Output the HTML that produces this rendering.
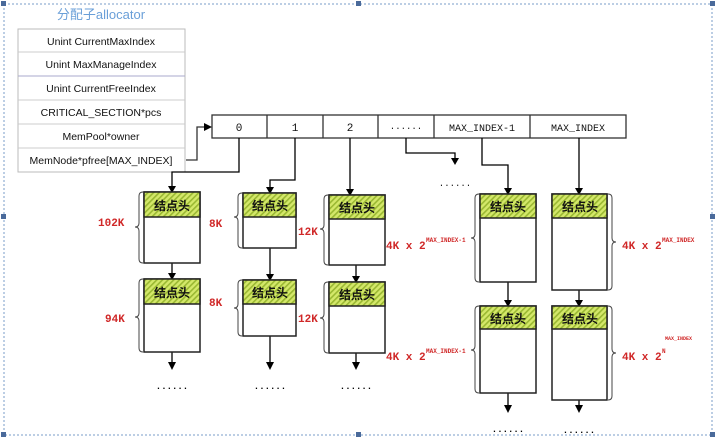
<!DOCTYPE html>
<html><head><meta charset="utf-8"><style>
body{margin:0;width:720px;height:441px;background:#fff;overflow:hidden;font-family:"Liberation Sans","Noto Sans CJK SC",sans-serif}
</style></head><body>
<svg width="720" height="441" xmlns="http://www.w3.org/2000/svg">
<defs>
<pattern id="h" width="4" height="4" patternUnits="userSpaceOnUse" patternTransform="rotate(45)">
<rect width="4" height="4" fill="#d4e86a"/><rect width="1.6" height="4" fill="#9ab832"/></pattern>
<marker id="a" markerWidth="8" markerHeight="8" refX="4" refY="7" orient="auto" markerUnits="userSpaceOnUse"><path d="M0,0 L8,0 L4,8z" fill="#000" transform="rotate(0)"/></marker>
</defs>
<rect x="4" y="4" width="708" height="431" fill="none" stroke="#7a9cc8" stroke-dasharray="2,2"/>
<g fill="#4a6a9a"><rect x="1" y="1" width="5" height="5"/><rect x="356" y="1" width="5" height="5"/><rect x="710" y="1" width="5" height="5"/><rect x="1" y="214" width="5" height="5"/><rect x="710" y="214" width="5" height="5"/><rect x="1" y="432" width="5" height="5"/><rect x="356" y="432" width="5" height="5"/><rect x="710" y="432" width="5" height="5"/></g>
<text x="101" y="19" font-size="13" fill="#6a9fd8" text-anchor="middle" font-family="Liberation Sans,Noto Sans CJK SC,sans-serif">分配子allocator</text>
<g font-size="10.5" text-anchor="middle" fill="#111">
<rect x="18" y="29" width="167" height="143" fill="#fff" stroke="#bbb"/>
<line x1="18" y1="52" x2="185" y2="52" stroke="#ccc"/><line x1="18" y1="76" x2="185" y2="76" stroke="#aac"/><line x1="18" y1="100" x2="185" y2="100" stroke="#ccc"/><line x1="18" y1="124" x2="185" y2="124" stroke="#ccc"/><line x1="18" y1="148" x2="185" y2="148" stroke="#ccc"/>
<text x="101" y="45">Unint CurrentMaxIndex</text>
<text x="101" y="68">Unint MaxManageIndex</text>
<text x="101" y="92">Unint CurrentFreeIndex</text>
<text x="101" y="116">CRITICAL_SECTION*pcs</text>
<text x="101" y="140">MemPool*owner</text>
<text x="101" y="164">MemNode*pfree[MAX_INDEX]</text>
</g>
<g stroke="#333" stroke-width="1.3" fill="none">
<rect x="212" y="115" width="414" height="23" fill="#fff"/>
<line x1="267" y1="115" x2="267" y2="138"/><line x1="323" y1="115" x2="323" y2="138"/><line x1="378" y1="115" x2="378" y2="138"/><line x1="434" y1="115" x2="434" y2="138"/><line x1="530" y1="115" x2="530" y2="138"/>
<polyline points="186,160 197,160 197,127 205,127"/>
</g>
<path d="M204,123 L212,127 L204,131z" fill="#000"/>
<g font-family="Liberation Mono,monospace" font-size="11" text-anchor="middle" fill="#111">
<text x="239" y="131">0</text><text x="295" y="131">1</text><text x="350" y="131">2</text><text x="406" y="129" font-size="9">......</text>
<text x="482" y="131" font-size="10">MAX_INDEX-1</text><text x="578" y="131" font-size="10">MAX_INDEX</text>
<text x="455" y="186" font-size="9">......</text>
</g>
<g stroke="#000" stroke-width="1.3" fill="none">
<polyline points="239,138 239,172 172,172 172,186"/>
<polyline points="295,138 295,180 270,180 270,187"/>
<polyline points="350,138 350,189"/>
<polyline points="406,138 406,153 455,153 455,158"/>
<polyline points="482,138 482,165 508,165 508,188"/>
<polyline points="579,138 579,188"/>
<line x1="172" y1="263" x2="172" y2="273"/><line x1="172" y1="352" x2="172" y2="362"/>
<line x1="270" y1="248" x2="270" y2="274"/><line x1="270" y1="336" x2="270" y2="362"/>
<line x1="356" y1="265" x2="356" y2="276"/><line x1="356" y1="353" x2="356" y2="362"/>
<line x1="508" y1="282" x2="508" y2="300"/><line x1="508" y1="393" x2="508" y2="405"/>
<line x1="579" y1="290" x2="579" y2="300"/><line x1="579" y1="400" x2="579" y2="405"/>
</g>
<g fill="#000">
<path d="M168,186 L176,186 L172,193z"/><path d="M266,187 L274,187 L270,194z"/><path d="M346,189 L354,189 L350,196z"/>
<path d="M451,158 L459,158 L455,165z"/><path d="M504,188 L512,188 L508,195z"/><path d="M575,188 L583,188 L579,195z"/>
<path d="M168,273 L176,273 L172,280z"/><path d="M266,274 L274,274 L270,281z"/><path d="M352,276 L360,276 L356,283z"/>
<path d="M504,300 L512,300 L508,307z"/><path d="M575,300 L583,300 L579,307z"/>
<path d="M168,362 L176,362 L172,370z"/><path d="M266,362 L274,362 L270,370z"/><path d="M352,362 L360,362 L356,370z"/>
<path d="M504,405 L512,405 L508,413z"/><path d="M575,405 L583,405 L579,413z"/>
</g>
<g font-size="9" font-weight="bold" fill="#000" font-family="Liberation Mono,monospace" text-anchor="middle">
<text x="172" y="389">......</text><text x="270" y="389">......</text><text x="356" y="389">......</text><text x="508" y="432">......</text><text x="579" y="433">......</text>
</g>
<g stroke="#222" stroke-width="1.5">
<rect x="144" y="192" width="56" height="71" fill="#fff"/><rect x="144" y="192" width="56" height="25" fill="url(#h)"/>
<rect x="144" y="279" width="56" height="73" fill="#fff"/><rect x="144" y="279" width="56" height="25" fill="url(#h)"/>
<rect x="243" y="193" width="53" height="55" fill="#fff"/><rect x="243" y="193" width="53" height="24" fill="url(#h)"/>
<rect x="243" y="280" width="53" height="56" fill="#fff"/><rect x="243" y="280" width="53" height="24" fill="url(#h)"/>
<rect x="329" y="195" width="56" height="70" fill="#fff"/><rect x="329" y="195" width="56" height="24" fill="url(#h)"/>
<rect x="329" y="282" width="56" height="71" fill="#fff"/><rect x="329" y="282" width="56" height="24" fill="url(#h)"/>
<rect x="480" y="194" width="56" height="88" fill="#fff"/><rect x="480" y="194" width="56" height="24" fill="url(#h)"/>
<rect x="480" y="306" width="56" height="87" fill="#fff"/><rect x="480" y="306" width="56" height="23" fill="url(#h)"/>
<rect x="552" y="194" width="55" height="96" fill="#fff"/><rect x="552" y="194" width="55" height="24" fill="url(#h)"/>
<rect x="552" y="306" width="55" height="94" fill="#fff"/><rect x="552" y="306" width="55" height="23" fill="url(#h)"/>
</g>
<g font-size="12" font-weight="bold" text-anchor="middle" fill="#111" font-family="Liberation Sans,Noto Sans CJK SC,sans-serif">
<text x="172" y="210">结点头</text><text x="172" y="297">结点头</text>
<text x="270" y="210">结点头</text><text x="270" y="297">结点头</text>
<text x="357" y="212">结点头</text><text x="357" y="299">结点头</text>
<text x="508" y="211">结点头</text><text x="508" y="323">结点头</text>
<text x="580" y="211">结点头</text><text x="580" y="323">结点头</text>
</g>
<g stroke="#444" stroke-width="1" fill="none">
<path d="M143,192 q-4,0 -4,4 v27 q0,4 -4,4 q4,0 4,4 v28 q0,4 4,4"/>
<path d="M143,279 q-4,0 -4,4 v30 q0,4 -4,4 q4,0 4,4 v27 q0,4 4,4"/>
<path d="M242,193 q-4,0 -4,4 v16 q0,4 -4,4 q4,0 4,4 v23 q0,4 4,4"/>
<path d="M242,280 q-4,0 -4,4 v20 q0,4 -4,4 q4,0 4,4 v20 q0,4 4,4"/>
<path d="M328,195 q-4,0 -4,4 v26 q0,4 -4,4 q4,0 4,4 v28 q0,4 4,4"/>
<path d="M328,282 q-4,0 -4,4 v28 q0,4 -4,4 q4,0 4,4 v27 q0,4 4,4"/>
<path d="M479,194 q-4,0 -4,4 v36 q0,4 -4,4 q4,0 4,4 v36 q0,4 4,4"/>
<path d="M479,306 q-4,0 -4,4 v36 q0,4 -4,4 q4,0 4,4 v35 q0,4 4,4"/>
<path d="M608,194 q4,0 4,4 v40 q0,4 4,4 q-4,0 -4,4 v40 q0,4 -4,4"/>
<path d="M608,306 q4,0 4,4 v39 q0,4 4,4 q-4,0 -4,4 v39 q0,4 -4,4"/>
</g>
<g fill="#d02828" font-family="Liberation Mono,monospace" font-size="11" font-weight="bold">
<text x="98" y="226">102K</text><text x="105" y="322">94K</text>
<text x="209" y="227">8K</text><text x="209" y="306">8K</text>
<text x="298" y="235">12K</text><text x="298" y="322">12K</text>
<text x="386" y="249">4K x 2</text><text x="426" y="242" font-size="6">MAX_INDEX-1</text>
<text x="386" y="360">4K x 2</text><text x="426" y="353" font-size="6">MAX_INDEX-1</text>
<text x="622" y="249">4K x 2</text><text x="662" y="242" font-size="6">MAX_INDEX</text>
<text x="622" y="360">4K x 2</text><text x="662" y="353" font-size="6">N</text><text x="665" y="340" font-size="5">MAX_INDEX</text>
</g>
</svg>
</body></html>
